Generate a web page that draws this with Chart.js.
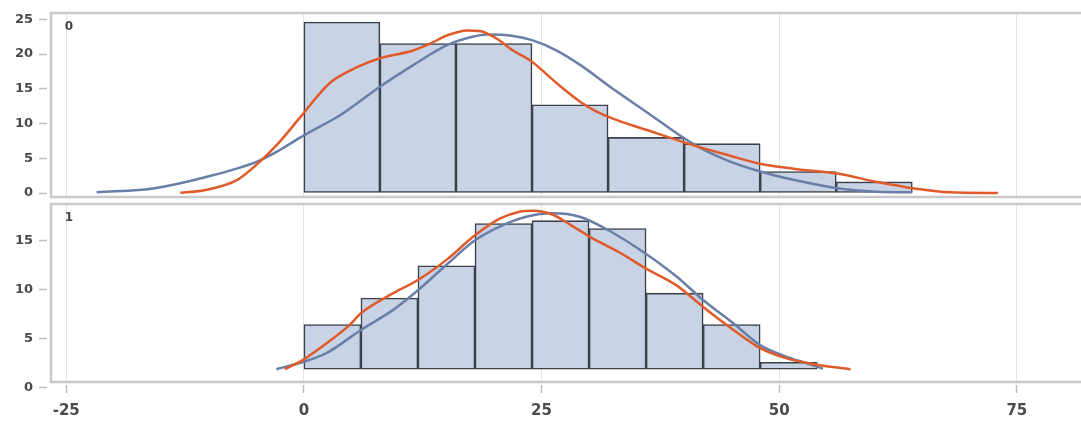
<!DOCTYPE html>
<html>
<head>
<meta charset="utf-8">
<script src="https://cdn.jsdelivr.net/npm/chart.js@4.4.1/dist/chart.umd.min.js"></script>
<style>
  html, body { margin: 0; padding: 0; background: #fff; overflow: hidden; }
  #wrap { position: relative; width: 1081px; height: 421px; overflow: hidden; }
  canvas { position: absolute; left: 0; }
  #topChart { top: 0; }
  #bottomChart { top: 200px; }
</style>
</head>
<body>
<div id="wrap">
  <canvas id="topChart" width="1120" height="200"></canvas>
  <canvas id="bottomChart" width="1120" height="221"></canvas>
</div>
<script>
// shared x axis
const xTicks = [-25, 0, 25, 50, 75];

// panel "0"
const topBinStarts = [0, 8, 16, 24, 32, 40, 48, 56];
const topBinWidth = 8;
const topCounts = [24.6, 21.5, 21.5, 12.7, 8.0, 7.1, 3.1, 1.6];
const topYTicks = [0, 5, 10, 15, 20, 25];
const topBlueX = [-21.8, -15.7, -10.3, -4.8, -2.4, 0, 3.8, 8, 11.5, 15.1, 17.2, 19.3, 22, 24, 26.6, 29.1, 32.5, 36, 40.9, 44.5, 48, 51.5, 56.1, 60.3, 64];
const topBlueY = [0.1, 0.7, 2.3, 4.6, 6.3, 8.3, 11.2, 15.3, 18.4, 21.3, 22.3, 22.8, 22.6, 22.0, 20.5, 18.4, 15.0, 11.7, 7.1, 4.7, 3.1, 1.9, 0.7, 0.2, 0.1];
const topRedX = [-13, -10.3, -7, -4.8, -2.6, -0.5, 2.7, 5.6, 8, 11.5, 13.3, 15.1, 17.2, 18.5, 20.3, 22, 24, 25.6, 27.3, 29.1, 30.8, 32.5, 36, 40.9, 44.5, 48, 51.5, 56.1, 60.3, 64, 68, 73];
const topRedY = [0.05, 0.45, 1.9, 4.3, 7.3, 10.7, 15.8, 18.1, 19.4, 20.5, 21.5, 22.7, 23.4, 23.3, 22.2, 20.5, 18.9, 17.0, 15.0, 13.1, 11.7, 10.7, 9.1, 6.9, 5.5, 4.2, 3.5, 2.8, 1.6, 0.7, 0.1, 0.0];

// panel "1"
const bottomBinStarts = [0, 6, 12, 18, 24, 30, 36, 42, 48];
const bottomBinWidth = 6;
const bottomCounts = [6.4, 9.1, 12.4, 16.7, 17.0, 16.2, 9.6, 6.4, 2.55];
const bottomBase = 1.84;
const bottomYTicks = [0, 5, 10, 15];
const bottomBlueX = [-2.9, 0, 2.4, 6, 9.4, 12, 15, 18, 20.6, 23.4, 26.2, 29, 31.9, 36, 39.2, 42, 45.2, 48, 50.8, 52.9, 54.6];
const bottomBlueY = [1.84, 2.6, 3.5, 5.85, 7.9, 9.9, 12.5, 15.0, 16.4, 17.4, 17.75, 17.4, 16.1, 13.6, 11.3, 8.9, 6.5, 4.3, 3.1, 2.45, 1.9];
const bottomRedX = [-2.0, 0, 2.4, 4.8, 6, 9.4, 12, 15, 18, 20.6, 22.7, 24.1, 26.2, 28, 30, 33.3, 36, 39.2, 42, 45.2, 48, 50.8, 54, 57.5];
const bottomRedY = [1.84, 2.85, 4.5, 6.35, 7.55, 9.6, 10.95, 13.0, 15.5, 17.2, 17.9, 18.0, 17.6, 16.6, 15.4, 13.7, 12.1, 10.4, 8.2, 5.85, 4.0, 2.95, 2.3, 1.84];

const textColor = "#4a4a4a";
const tickMarkColor = "#bdbdbd";

const zip = (xs, ys) => xs.map((x, i) => ({ x: x, y: ys[i] }));
const bins = (starts, width, counts) => starts.map((s, i) => ({ x: s + width / 2, y: counts[i] }));

// frame around each panel + panel name in the corner
const panelFrame = {
    id: "panelFrame",
    beforeDatasetsDraw(chart, args, opts) {
        const { ctx, chartArea: a } = chart;
        ctx.save();
        ctx.strokeStyle = "#c9c9c9";
        ctx.lineWidth = 2.5;
        ctx.strokeRect(a.left, a.top, a.right - a.left, a.bottom - a.top);
        ctx.fillStyle = "#444";
        ctx.font = "bold 12px 'DejaVu Sans'";
        ctx.textAlign = "center";
        ctx.textBaseline = "middle";
        ctx.fillText(opts.label, a.left + 18, a.top + 14);
        ctx.restore();
    },
};

function xScale(showLabels) {
    return {
        type: "linear",
        min: -26.6,
        max: 85.85,
        offset: false,
        afterBuildTicks: (s) => { s.ticks = xTicks.map((v) => ({ value: v })); },
        afterFit: (s) => { s.height = showLabels ? 39 : 0; s.paddingLeft = 0; s.paddingRight = 0; },
        grid: {
            offset: false,
            color: "#e4e4e4",
            lineWidth: 1,
            drawTicks: showLabels,
            tickLength: 11,
            tickColor: tickMarkColor,
            tickWidth: 1.5,
            tickBorderDash: [0, 3, 8, 100],
        },
        border: { display: false },
        ticks: {
            display: showLabels,
            padding: 9,
            color: textColor,
            font: { family: "'DejaVu Sans'", size: 15, weight: "bold" },
        },
    };
}

function yScale(min, max, ticks) {
    return {
        type: "linear",
        min: min,
        max: max,
        afterBuildTicks: (s) => { s.ticks = ticks.map((v) => ({ value: v })); },
        afterFit: (s) => { s.width = 51; s.paddingTop = 0; s.paddingBottom = 0; },
        grid: {
            drawOnChartArea: false,
            drawTicks: true,
            tickLength: 12,
            tickColor: tickMarkColor,
            tickWidth: 1.5,
            tickBorderDash: [8, 100],
        },
        border: { display: false },
        ticks: {
            padding: 6,
            color: textColor,
            font: { family: "'DejaVu Sans'", size: 13, weight: "bold" },
        },
    };
}

function histDataset(data, base) {
    const ds = {
        type: "bar",
        data: data,
        backgroundColor: "#c8d3e5",
        borderColor: "#3b4249",
        borderWidth: 1.6,
        borderSkipped: false,
        barPercentage: 1,
        categoryPercentage: 1,
        order: 2,
    };
    if (base !== undefined) ds.base = base;
    return ds;
}

function curveDataset(data, color, order) {
    return {
        type: "line",
        data: data,
        borderColor: color,
        borderWidth: 2.5,
        pointRadius: 0,
        fill: false,
        cubicInterpolationMode: "monotone",
        order: order,
    };
}

function makeChart(id, datasets, yOpts, showX, padding, label) {
    return new Chart(document.getElementById(id).getContext("2d"), {
        type: "bar",
        data: { datasets: datasets },
        options: {
            responsive: false,
            animation: false,
            layout: { padding: padding },
            plugins: {
                legend: { display: false },
                tooltip: { enabled: false },
                panelFrame: { label: label },
            },
            scales: { x: xScale(showX), y: yOpts },
        },
        plugins: [panelFrame],
    });
}

makeChart(
    "topChart",
    [
        histDataset(bins(topBinStarts, topBinWidth, topCounts)),
        curveDataset(zip(topBlueX, topBlueY), "#6a7fa8", 1),
        curveDataset(zip(topRedX, topRedY), "#e15a2a", 0),
    ],
    yScale(-0.57, 25.9, topYTicks),
    false,
    { top: 13, bottom: 3, left: 0, right: 0 },
    "0"
);

makeChart(
    "bottomChart",
    [
        histDataset(bins(bottomBinStarts, bottomBinWidth, bottomCounts), bottomBase),
        curveDataset(zip(bottomBlueX, bottomBlueY), "#6a7fa8", 1),
        curveDataset(zip(bottomRedX, bottomRedY), "#e15a2a", 0),
    ],
    yScale(0.54, 18.7, bottomYTicks),
    true,
    { top: 4, bottom: 0, left: 0, right: 0 },
    "1"
);
</script>
</body>
</html>
